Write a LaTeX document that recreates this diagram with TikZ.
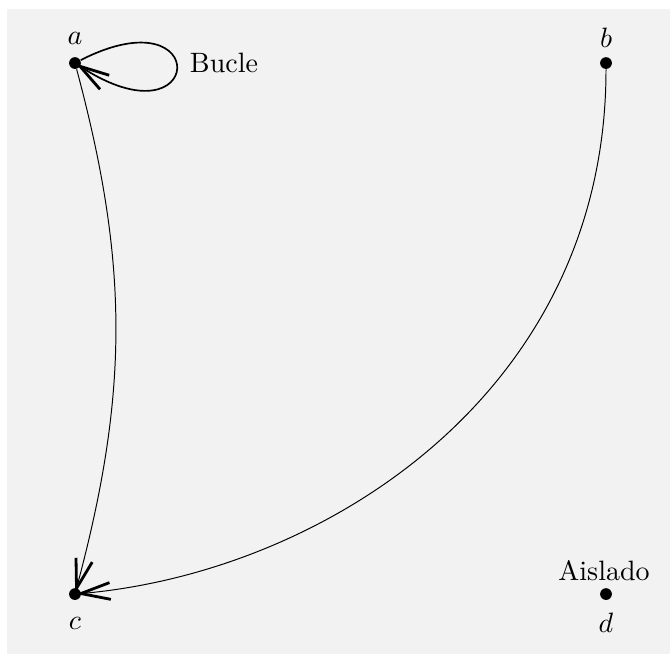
\documentclass[tikz,border=0pt]{standalone}
\usepackage{amsmath,amssymb}
\usepackage{xcolor}
\usepackage{tikz}
\usetikzlibrary{arrows.meta,positioning,calc}

\begin{document}
\begin{tikzpicture}[
        >={Straight Barb[length=10.5pt,width=6pt,line width=1pt]},
        vertex/.style={circle,fill=black,inner sep=0pt,minimum size=4.2pt},
        link/.style={->,line width=0.35pt,shorten >=-2pt},
        selfloop/.style={->,line width=0.6pt,shorten >=-2pt},
        tag/.style={inner sep=0pt}
      ]
        \useasboundingbox (-0.941,0.791) rectangle (7.468,-7.418);
        \fill[black!5] (-0.854,0.672) rectangle (7.468,-7.418);
        \node[vertex] (a) at (0,0) {};
        \node[vertex] (b) at (6.665,0) {};
        \node[vertex] (c) at (0,-6.665) {};
        \node[vertex] (d) at (6.665,-6.665) {};
        \node[tag] (la) at (0,0.314) {$a$};
        \node[tag] (lb) at (6.665,0.314) {$b$};
        \node[tag] (lc) at (0,-7.03) {$c$};
        \node[tag] (ld) at (6.665,-7.03) {$d$};
        \node[tag] (bucle) at (1.87,0) {Bucle};
        \node[tag] (aislado) at (6.64,-6.37) {Aislado};
        % edges
        \draw[selfloop] (a) .. controls +(27:1.95cm) and +(-33:1.95cm) .. (a);
        \draw[link] (a) to[bend left=15] (c);
        \draw[link] (b) .. controls +(0,-4.14) and +(5:3.14) .. (c);
      \end{tikzpicture}
\end{document}
